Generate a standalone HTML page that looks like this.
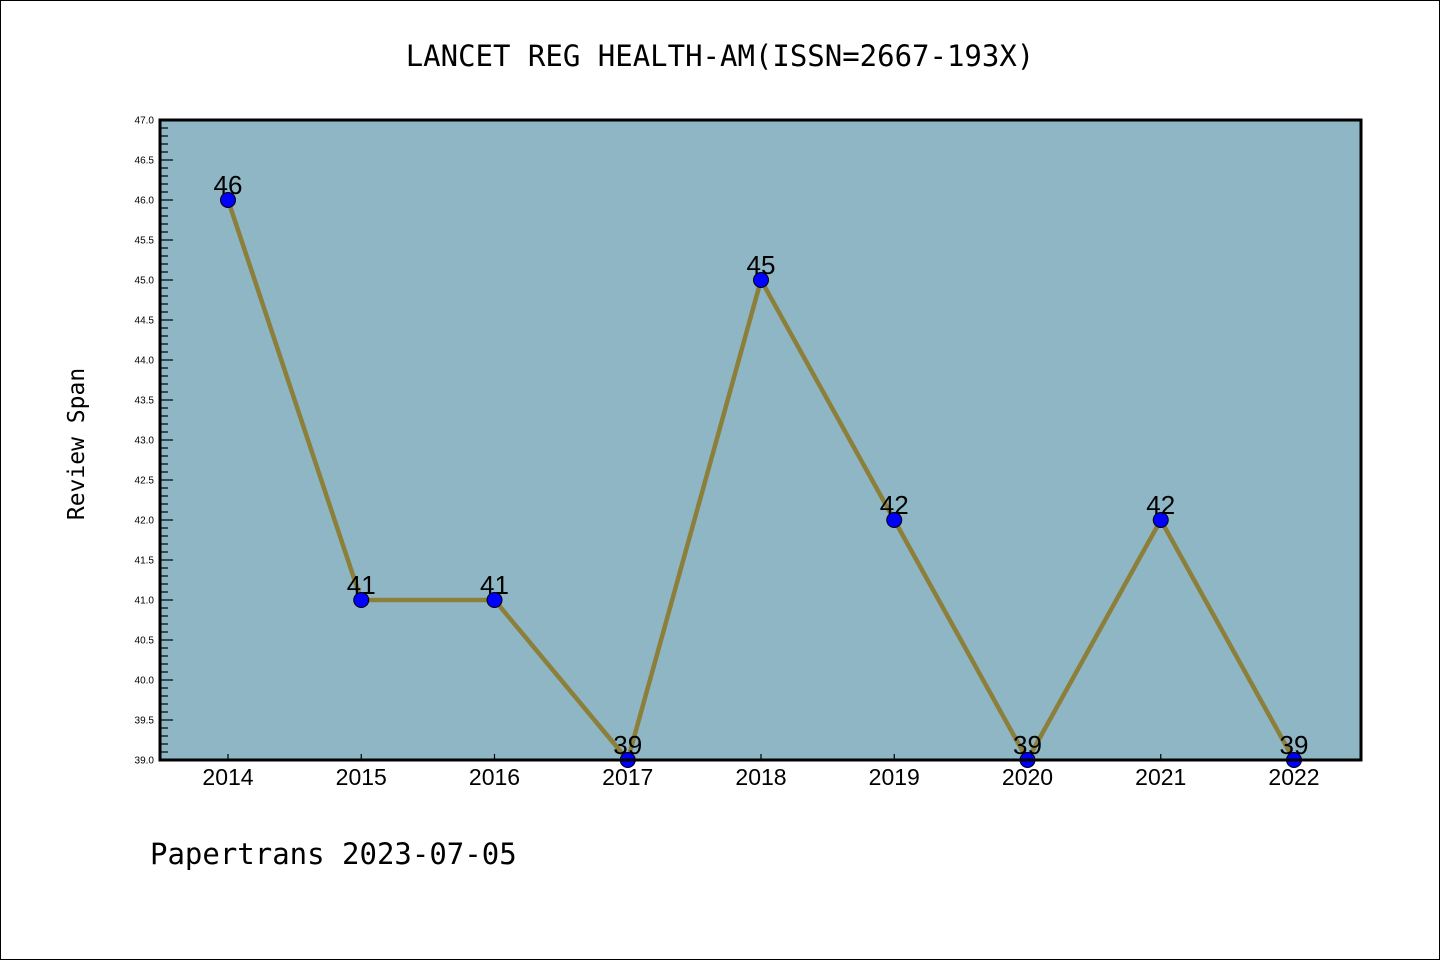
<!DOCTYPE html>
<html><head><meta charset="utf-8"><style>
html,body{margin:0;padding:0;background:#fff}
svg{display:block}
</style></head><body>
<svg id="chart" width="1440" height="960" xmlns="http://www.w3.org/2000/svg" font-family="'Liberation Sans','DejaVu Sans',sans-serif">
<rect x="0.5" y="0.5" width="1439" height="959" fill="#fff" stroke="#000" stroke-width="1"/>
<text x="720" y="66" text-anchor="middle" font-size="29" font-family="'DejaVu Sans Mono','Liberation Mono',monospace">LANCET REG HEALTH-AM(ISSN=2667-193X)</text>
<rect x="160" y="120" width="1201" height="640" fill="#8fb6c4"/>
<g id="yticks"></g>
<g id="xticks"></g>
<g id="series"></g>
<rect x="160" y="120" width="1201" height="640" fill="none" stroke="#000" stroke-width="3"/>
<text transform="translate(84,444) rotate(-90)" text-anchor="middle" font-size="23" font-family="'DejaVu Sans Mono','Liberation Mono',monospace">Review Span</text>
<text x="150" y="864" font-size="29" font-family="'DejaVu Sans Mono','Liberation Mono',monospace">Papertrans 2023-07-05</text>
</svg>
<script>
const years = ["2014","2015","2016","2017","2018","2019","2020","2021","2022"];
const values = [46,41,41,39,45,42,39,42,39];
const yTickLabels = ["39.0","39.5","40.0","40.5","41.0","41.5","42.0","42.5","43.0","43.5","44.0","44.5","45.0","45.5","46.0","46.5","47.0"];
const yMin = 39, yMax = 47;
const NS = "http://www.w3.org/2000/svg";
const L=160,R=1361,T=120,B=760;
const x0=228, x1=1294;
function xs(i){return x0+(x1-x0)*i/(years.length-1);}
function ys(v){return B-(v-yMin)/(yMax-yMin)*(B-T);}
function mk(tag,attrs,parent){const e=document.createElementNS(NS,tag);for(const k in attrs)e.setAttribute(k,attrs[k]);parent.appendChild(e);return e;}
const yg=document.getElementById('yticks');
for(let k=0;k<=(yMax-yMin)*10;k++){
  const v=yMin+k/10, y=ys(v), major=k%5===0;
  const t=mk('line',{x1:L,x2:L+(major?13:8),y1:y,y2:y,stroke:'#000','stroke-width':1.2},yg);
  
  
}
yTickLabels.forEach(s=>{
  const tx=mk('text',{x:L-6,y:ys(parseFloat(s))+3.5,'text-anchor':'end','font-size':10},yg);
  tx.textContent=s;
  
  
});
const xg=document.getElementById('xticks');
years.forEach((yr,i)=>{
  const t=mk('line',{x1:xs(i),x2:xs(i),y1:B,y2:B-6,stroke:'#000','stroke-width':1.2},xg);
  
  
  const tx=mk('text',{x:xs(i),y:785,'text-anchor':'middle','font-size':23},xg);
  tx.textContent=yr;
  
  
});
const sg=document.getElementById('series');
const line=mk('polyline',{points:values.map((v,i)=>xs(i)+','+ys(v)).join(' '),fill:'none',stroke:'#8b7f3a','stroke-width':4.5,'stroke-linejoin':'round'},sg);


values.forEach((v,i)=>{
  const c=mk('circle',{cx:xs(i),cy:ys(v),r:7.5,fill:'#0000ff',stroke:'#000','stroke-width':1},sg);
  
  
  const tx=mk('text',{x:xs(i),y:ys(v)-6,'text-anchor':'middle','font-size':26},sg);
  tx.textContent=String(v);
  
  
});
</script>
</body></html>
